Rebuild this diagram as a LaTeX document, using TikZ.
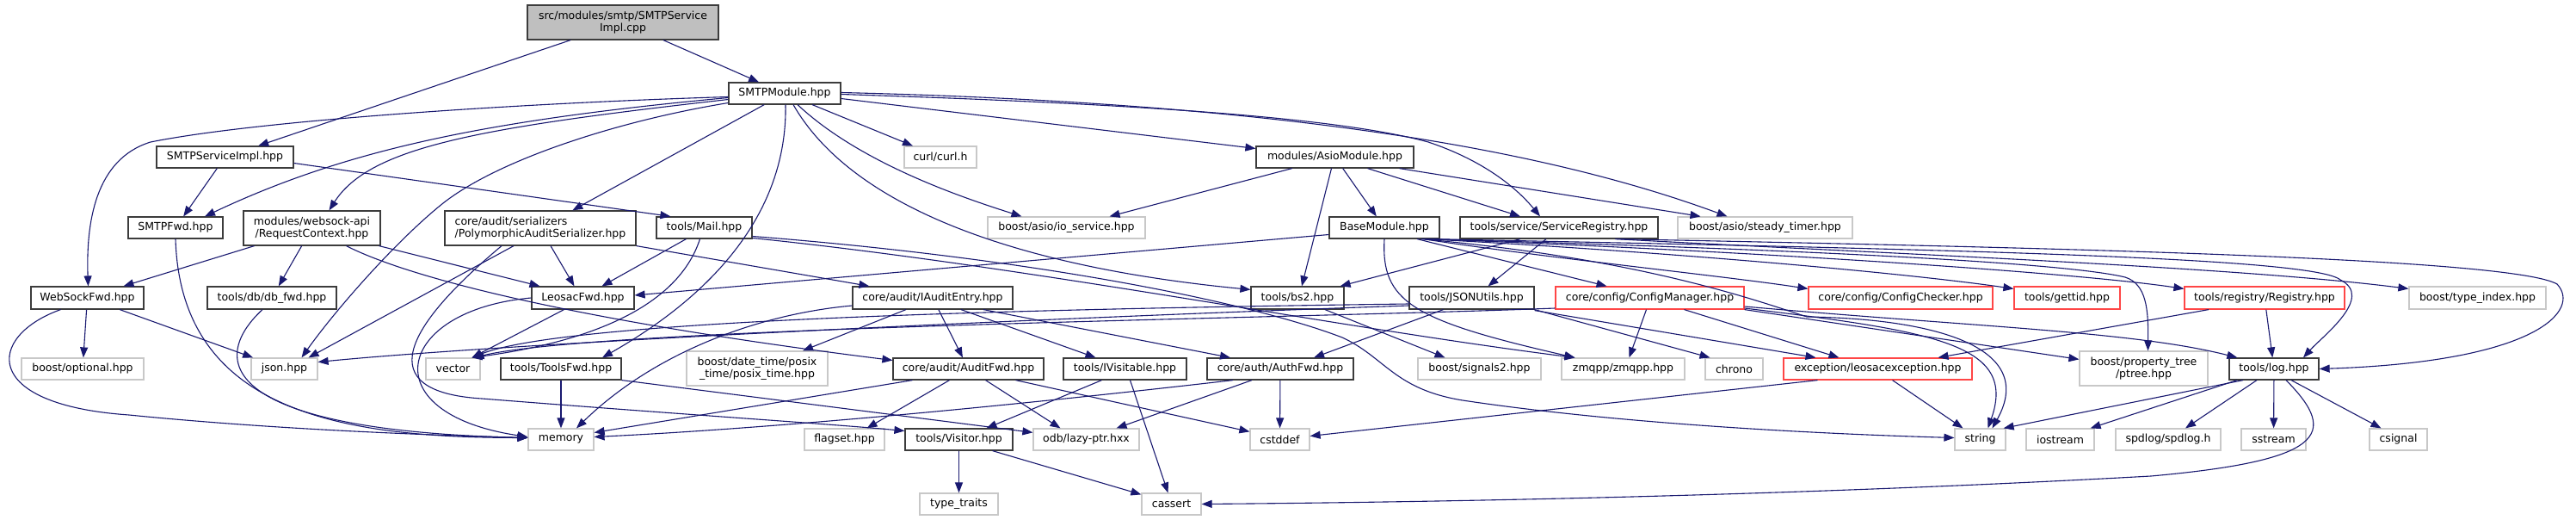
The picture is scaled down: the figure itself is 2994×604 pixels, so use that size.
\documentclass[tikz,border=0pt]{standalone}
\usepackage{fontspec}
\setmainfont{DejaVu Sans}
\usetikzlibrary{arrows.meta}
\definecolor{edgecol}{RGB}{25,25,112}
\definecolor{bdark}{RGB}{60,60,60}
\definecolor{bgray}{RGB}{200,200,200}
\definecolor{bred}{RGB}{255,70,70}
\definecolor{rootfill}{RGB}{191,191,191}
\newcommand\mkbox[7]{%
  \pgfmathsetmacro\mkW{#3-#2}%
  \pgfmathsetmacro\mkH{#5-#4}%
  \pgfmathsetmacro\mkX{(#2+#3)/2}%
  \pgfmathsetmacro\mkY{(#4+#5)/2}%
  \node[#6, minimum width=\mkW pt, minimum height=\mkH pt] (#1) at (\mkX,\mkY) {#7};%
}
\begin{document}
\begin{tikzpicture}[x=1pt,y=-1pt,font=\fontsize{12.5}{14}\selectfont,
  bx/.style={inner sep=0pt, line width=1.2pt, fill=white, align=center},
  nb/.style={bx, draw=bdark},
  ng/.style={bx, draw=bgray},
  nr/.style={bx, draw=bred},
  nroot/.style={bx, draw=bdark, fill=rootfill},
  lnk/.style={draw=edgecol, line width=1.1pt, -{Triangle[length=12pt,width=9pt]}}]
\path[use as bounding box, fill=white] (0,0) rectangle (2994,604);
% row 0-1
\mkbox{root}{613}{835}{6}{46}{nroot}{src/modules/smtp/SMTPService\\Impl.cpp}
\mkbox{smtpmod}{847}{977}{96}{121}{nb}{SMTPModule.hpp}
% row 2
\mkbox{ssimpl}{182}{341}{170}{195}{nb}{SMTPServiceImpl.hpp}
\mkbox{curl}{1051}{1135}{170}{195}{ng}{curl/curl.h}
\mkbox{asio}{1460}{1643}{170}{195}{nb}{modules/AsioModule.hpp}
% row 3
\mkbox{smtpfwd}{149}{259}{252}{277}{nb}{SMTPFwd.hpp}
\mkbox{reqctx}{283}{442}{245}{285}{nb}{modules/websock-api\\/RequestContext.hpp}
\mkbox{pas}{517}{739}{245}{285}{nb,align=left}{core/audit/serializers\\/PolymorphicAuditSerializer.hpp}
\mkbox{mail}{763}{874}{252}{277}{nb}{tools/Mail.hpp}
\mkbox{iosvc}{1148}{1331}{252}{277}{ng}{boost/asio/io\_service.hpp}
\mkbox{basemod}{1545}{1673}{252}{277}{nb}{BaseModule.hpp}
\mkbox{svcreg}{1697}{1927}{252}{277}{nb}{tools/service/ServiceRegistry.hpp}
\mkbox{timer}{1950}{2153}{252}{277}{ng}{boost/asio/steady\_timer.hpp}
% row 4
\mkbox{wsfwd}{36}{167}{333}{359}{nb}{WebSockFwd.hpp}
\mkbox{dbfwd}{241}{391}{333}{359}{nb}{tools/db/db\_fwd.hpp}
\mkbox{lfwd}{618}{737}{333}{359}{nb}{LeosacFwd.hpp}
\mkbox{iaudit}{991}{1177}{333}{359}{nb}{core/audit/IAuditEntry.hpp}
\mkbox{bs2}{1454}{1562}{333}{359}{nb}{tools/bs2.hpp}
\mkbox{jsonu}{1638}{1783}{333}{359}{nb}{tools/JSONUtils.hpp}
\mkbox{cfgmgr}{1808}{2027}{333}{359}{nr}{core/config/ConfigManager.hpp}
\mkbox{cfgchk}{2102}{2316}{333}{359}{nr}{core/config/ConfigChecker.hpp}
\mkbox{gettid}{2341}{2464}{333}{359}{nr}{tools/gettid.hpp}
\mkbox{registry}{2539}{2725}{333}{359}{nr}{tools/registry/Registry.hpp}
\mkbox{typeidx}{2800}{2959}{333}{359}{ng}{boost/type\_index.hpp}
% row 5
\mkbox{optional}{25}{167}{416}{441}{ng}{boost/optional.hpp}
\mkbox{json}{292}{369}{416}{441}{ng}{json.hpp}
\mkbox{vector}{495}{558}{416}{441}{ng}{vector}
\mkbox{toolsfwd}{582}{722}{416}{441}{nb}{tools/ToolsFwd.hpp}
\mkbox{posix}{798}{962}{408}{448}{ng}{boost/date\_time/posix\\\_time/posix\_time.hpp}
\mkbox{auditfwd}{1038}{1213}{416}{441}{nb}{core/audit/AuditFwd.hpp}
\mkbox{ivisit}{1236}{1379}{416}{441}{nb}{tools/IVisitable.hpp}
\mkbox{authfwd}{1403}{1573}{416}{441}{nb}{core/auth/AuthFwd.hpp}
\mkbox{signals}{1648}{1791}{416}{441}{ng}{boost/signals2.hpp}
\mkbox{zmqpp}{1815}{1958}{416}{441}{ng}{zmqpp/zmqpp.hpp}
\mkbox{chrono}{1982}{2049}{416}{441}{ng}{chrono}
\mkbox{lexc}{2073}{2292}{416}{441}{nr}{exception/leosacexception.hpp}
\mkbox{ptree}{2417}{2566}{408}{448}{ng}{boost/property\_tree\\/ptree.hpp}
\mkbox{log}{2591}{2695}{416}{441}{nb}{tools/log.hpp}
% row 6
\mkbox{memory}{614}{690}{498}{523}{ng}{memory}
\mkbox{flagset}{935}{1028}{498}{523}{ng}{flagset.hpp}
\mkbox{visitor}{1052}{1177}{498}{523}{nb}{tools/Visitor.hpp}
\mkbox{odb}{1201}{1324}{498}{523}{ng}{odb/lazy-ptr.hxx}
\mkbox{cstddef}{1453}{1522}{498}{523}{ng}{cstddef}
\mkbox{string}{2272}{2331}{498}{523}{ng}{string}
\mkbox{iostream}{2355}{2434}{498}{523}{ng}{iostream}
\mkbox{spdlog}{2459}{2581}{498}{523}{ng}{spdlog/spdlog.h}
\mkbox{sstream}{2605}{2680}{498}{523}{ng}{sstream}
\mkbox{csignal}{2754}{2821}{498}{523}{ng}{csignal}
% row 7
\mkbox{typetraits}{1069}{1160}{573}{598}{ng}{type\_traits}
\mkbox{cassert}{1327}{1396}{573}{598}{ng}{cassert}

% ---- edges ----
\draw[lnk] (root) -- (ssimpl);
\draw[lnk] (root) -- (smtpmod);
\draw[lnk] (ssimpl) -- (smtpfwd);
\draw[lnk] ([yshift=-7pt]ssimpl.east) -- ([xshift=17pt]mail.north west);
% SMTPModule
\draw[lnk] ([yshift=-4pt]smtpmod.west) .. controls (600,120) and (300,140) .. (175,165) .. controls (110,185) and (100,260) .. ([xshift=1pt]wsfwd.north);
\draw[lnk] ([yshift=-5pt]smtpmod.west) .. controls (560,140) and (400,175) .. ([xshift=34pt]smtpfwd.north);
\draw[lnk] ([yshift=-7pt]smtpmod.west) .. controls (560,148) and (430,170) .. ([xshift=20pt]reqctx.north);
\draw[lnk] ([yshift=-11pt]smtpmod.west) .. controls (720,140) and (580,185) .. (515,236) .. controls (460,280) and (390,360) .. ([xshift=20pt]json.north);
\draw[lnk] (smtpmod) -- (pas);
\draw[lnk] ([xshift=1pt]smtpmod.south) .. controls (915,230) and (850,330) .. ([xshift=48pt]toolsfwd.north);
\draw[lnk] ([xshift=10pt]smtpmod.south) .. controls (990,240) and (1180,310) .. ([yshift=-4pt]bs2.north west);
\draw[lnk] ([xshift=15pt]smtpmod.south) .. controls (1000,190) and (1120,230) .. ([xshift=-52pt]iosvc.north);
\draw[lnk] (smtpmod) -- (curl);
\draw[lnk] ([yshift=-6pt]smtpmod.east) -- ([yshift=10pt]asio.west);
\draw[lnk] ([yshift=-1pt]smtpmod.east) .. controls (1300,120) and (1550,135) .. (1660,165) .. controls (1720,185) and (1760,215) .. ([xshift=-22pt]svcreg.north);
\draw[lnk] ([yshift=1pt]smtpmod.east) .. controls (1500,120) and (1800,175) .. ([xshift=-44pt]timer.north);
% AsioModule
\draw[lnk] (asio) -- ([xshift=50pt]iosvc.north);
\draw[lnk] (asio) -- (basemod);
\draw[lnk] ([xshift=38pt]asio.south) -- ([xshift=-45pt]svcreg.north);
\draw[lnk] ([xshift=75pt]asio.south) -- ([xshift=-75pt]timer.north);
\draw[lnk] ([xshift=-4pt]asio.south) -- ([xshift=5pt]bs2.north);
% RequestContext
\draw[lnk] (reqctx) -- ([xshift=42pt]wsfwd.north);
\draw[lnk] (reqctx) -- (dbfwd);
\draw[lnk] ([xshift=40pt]reqctx.south) .. controls (470,320) and (650,370) .. ([yshift=10pt]auditfwd.west);
\draw[lnk] ([xshift=78pt]reqctx.south) -- ([xshift=-50pt]lfwd.north);
% WebSockFwd, SMTPFwd, db_fwd
\draw[lnk] (wsfwd) -- (optional);
\draw[lnk] (wsfwd) -- (json);
\draw[lnk] ([xshift=-31pt]wsfwd.south) .. controls (-15,390) and (-25,470) .. (150,482) .. controls (330,500) and (520,506) .. ([yshift=2pt]memory.west);
\draw[lnk] (smtpfwd.south) .. controls (210,480) and (400,508) .. ([yshift=2pt]memory.west);
\draw[lnk] ([xshift=-11pt]dbfwd.south) .. controls (240,420) and (260,500) .. ([yshift=2pt]memory.west);
% PolymorphicAuditSerializer
\draw[lnk] ([xshift=-31pt]pas.south) -- ([xshift=28pt]json.north);
\draw[lnk] ([xshift=12pt]pas.south) -- ([xshift=-10pt]lfwd.north);
\draw[lnk] (pas.south east) -- ([xshift=20pt]iaudit.north west);
\draw[lnk] ([xshift=-45pt]pas.south) .. controls (470,380) and (430,455) .. (560,463) .. controls (800,482) and (960,492) .. ([yshift=10pt]visitor.west);
% LeosacFwd
\draw[lnk] (lfwd.west) .. controls (460,360) and (430,480) .. ([yshift=3pt]memory.west);
\draw[lnk] ([xshift=-22pt]lfwd.south) -- ([xshift=22pt]vector.north);
% Mail
\draw[lnk] ([xshift=-21pt]mail.south) -- ([xshift=22pt]lfwd.north);
\draw[lnk] ([xshift=-5pt]mail.south) .. controls (790,350) and (700,395) .. ([xshift=22pt]vector.north);
\draw[lnk] ([yshift=-10pt]mail.east) .. controls (1200,300) and (1450,350) .. (1560,392) .. controls (1610,415) and (1620,452) .. (1700,465) .. controls (1900,495) and (2150,505) .. ([yshift=2pt]string.west);
\draw[lnk] ([yshift=-12pt]mail.east) .. controls (1200,310) and (1550,380) .. ([xshift=-56pt]zmqpp.north);
% BaseModule
\draw[lnk] ([yshift=-8pt]basemod.west) -- ([yshift=3pt]lfwd.east);
\draw[lnk] (basemod.south) .. controls (1605,350) and (1640,372) .. ([xshift=-56pt]zmqpp.north);
\draw[lnk] ([xshift=38pt]basemod.south) -- ([xshift=-50pt]cfgmgr.north);
\draw[lnk] ([xshift=45pt]basemod.south) .. controls (1800,300) and (2000,320) .. ([yshift=-3pt]cfgchk.north west);
\draw[lnk] ([xshift=47pt]basemod.south) .. controls (1900,290) and (2200,315) .. ([yshift=-3pt]gettid.north west);
\draw[lnk] ([xshift=49pt]basemod.south) .. controls (2000,290) and (2400,315) .. ([yshift=-3pt]registry.north west);
\draw[lnk] ([xshift=51pt]basemod.south) .. controls (2100,290) and (2400,305) .. (2470,322) .. controls (2495,330) and (2497,360) .. ([xshift=5pt]ptree.north);
\draw[lnk] ([xshift=53pt]basemod.south) .. controls (2300,290) and (2690,300) .. (2720,325) .. controls (2760,345) and (2700,390) .. ([xshift=34pt]log.north);
\draw[lnk] ([xshift=43pt]basemod.south) .. controls (1900,300) and (2030,345) .. (2100,368) .. controls (2240,370) and (2370,400) .. ([xshift=14pt]string.north);
% ServiceRegistry
\draw[lnk] ([xshift=-45pt]svcreg.south) -- ([xshift=-5pt]bs2.north east);
\draw[lnk] ([xshift=-15pt]svcreg.south) -- ([xshift=19pt]jsonu.north);
\draw[lnk] ([xshift=65pt]svcreg.south) .. controls (2200,295) and (2600,310) .. ([yshift=-3pt]typeidx.north west);
\draw[lnk] ([xshift=67pt]svcreg.south) .. controls (2400,288) and (2920,300) .. (2972,330) .. controls (3000,360) and (2950,420) .. (log.east);
% JSONUtils
\draw[lnk] ([yshift=-9pt]jsonu.west) .. controls (1200,370) and (600,398) .. ([yshift=8pt]json.east);
\draw[lnk] ([yshift=-7pt]jsonu.west) .. controls (1100,360) and (650,375) .. ([xshift=22pt]vector.north);
\draw[lnk] (jsonu.south east) -- ([xshift=-28pt]chrono.north);
\draw[lnk] ([yshift=-1pt]jsonu.south east) -- ([xshift=-72pt]lexc.north);
\draw[lnk] ([xshift=-33pt]jsonu.south) -- ([xshift=39pt]authfwd.north);
% ConfigManager
\draw[lnk] ([yshift=-12pt]cfgmgr.west) .. controls (1500,370) and (700,380) .. ([xshift=24pt]vector.north);
\draw[lnk] ([xshift=-4pt]cfgmgr.south) -- ([xshift=7pt]zmqpp.north);
\draw[lnk] ([xshift=40pt]cfgmgr.south) -- ([xshift=-45pt]lexc.north);
\draw[lnk] (cfgmgr.south east) -- ([yshift=-10pt]ptree.north west);
\draw[lnk] ([yshift=-10pt]cfgmgr.east) .. controls (2300,380) and (2480,385) .. ([xshift=10pt]log.north west);
\draw[lnk] ([yshift=-12pt]cfgmgr.east) .. controls (2250,385) and (2345,400) .. ([xshift=9pt]string.north);
% Registry, leosacexception
\draw[lnk] ([xshift=-65pt]registry.south) -- ([xshift=70pt]lexc.north);
\draw[lnk] (registry) -- (log);
\draw[lnk] ([xshift=17pt]lexc.south) -- ([xshift=-20pt]string.north);
\draw[lnk] ([xshift=-70pt]lexc.south) -- ([yshift=4pt]cstddef.east);
% log
\draw[lnk] ([xshift=-36pt]log.south) -- ([xshift=-3pt]string.north east);
\draw[lnk] ([xshift=-43pt]log.south) -- ([xshift=-5pt]iostream.north east);
\draw[lnk] ([xshift=-20pt]log.south) -- ([xshift=20pt]spdlog.north);
\draw[lnk] (log) -- (sstream);
\draw[lnk] ([xshift=20pt]log.south) -- ([xshift=-20pt]csignal.north);
\draw[lnk] ([xshift=14pt]log.south) .. controls (2720,505) and (2700,535) .. (2500,553) .. controls (2100,575) and (1700,583) .. (cassert.east);
% bs2
\draw[lnk] ([xshift=32pt]bs2.south) -- ([xshift=-40pt]signals.north);
% IAuditEntry
\draw[lnk] (iaudit) -- (auditfwd);
\draw[lnk] ([xshift=33pt]iaudit.south) -- ([xshift=-34pt]ivisit.north);
\draw[lnk] ([xshift=59pt]iaudit.south) -- ([xshift=-58pt]authfwd.north);
\draw[lnk] ([xshift=-31pt]iaudit.south) -- ([xshift=53pt]posix.north);
\draw[lnk] ([yshift=-9pt]iaudit.west) .. controls (880,365) and (760,410) .. ([xshift=18pt]memory.north);
% AuditFwd
\draw[lnk] ([xshift=-65pt]auditfwd.south) -- ([yshift=8pt]memory.east);
\draw[lnk] ([xshift=-22pt]auditfwd.south) -- ([xshift=26pt]flagset.north);
\draw[lnk] ([xshift=20pt]auditfwd.south) -- ([xshift=-30pt]odb.north);
\draw[lnk] ([xshift=55pt]auditfwd.south) -- ([yshift=-4pt]cstddef.north west);
% IVisitable, Visitor
\draw[lnk] ([xshift=-27pt]ivisit.south) -- ([xshift=32pt]visitor.north);
\draw[lnk] ([xshift=6pt]ivisit.south) -- ([xshift=-4pt]cassert.north);
\draw[lnk] (visitor) -- (typetraits);
\draw[lnk] ([xshift=39pt]visitor.south) -- ([yshift=-2pt]cassert.north west);
% AuthFwd
\draw[lnk] ([xshift=-55pt]authfwd.south) .. controls (1100,480) and (850,500) .. ([yshift=3pt]memory.east);
\draw[lnk] ([xshift=-33pt]authfwd.south) -- ([xshift=35pt]odb.north);
\draw[lnk] (authfwd) -- (cstddef);
% ToolsFwd
\draw[lnk] (toolsfwd) -- (memory);
\draw[lnk] (toolsfwd.south east) -- ([yshift=-5pt]odb.north west);
\end{tikzpicture}
\end{document}
